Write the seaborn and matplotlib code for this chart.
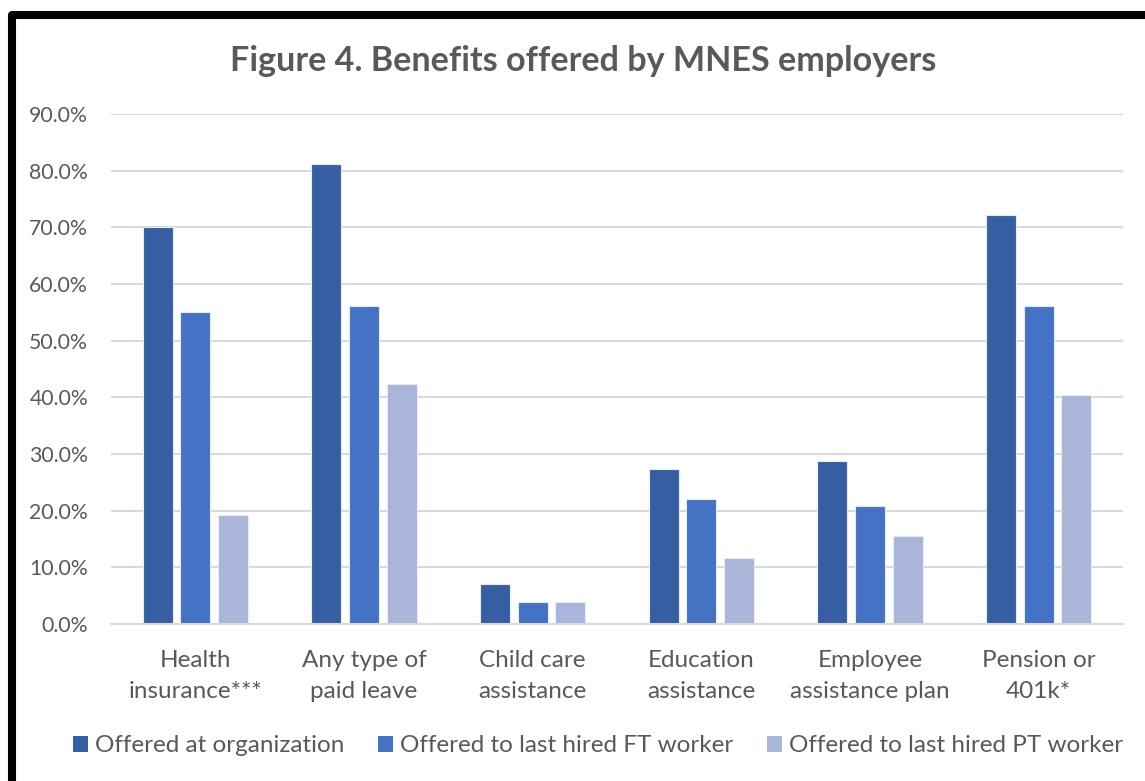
import matplotlib
matplotlib.use("Agg")
import matplotlib.pyplot as plt
from matplotlib.patches import Rectangle
from matplotlib.ticker import FuncFormatter, MultipleLocator
import seaborn as sns
import pandas as pd

# Benefit categories (x axis) and the share of employers for each series
categories = [
    "Health\ninsurance***",
    "Any type of\npaid leave",
    "Child care\nassistance",
    "Education\nassistance",
    "Employee\nassistance plan",
    "Pension or\n401k*",
]
offered_at_org = [70.0, 81.1, 7.1, 27.3, 28.8, 72.1]
offered_last_ft = [55.0, 56.2, 3.8, 22.1, 20.8, 56.2]
offered_last_pt = [19.3, 42.3, 3.9, 11.6, 15.5, 40.4]
series_names = [
    "Offered at organization",
    "Offered to last hired FT worker",
    "Offered to last hired PT worker",
]
colors = ["#365FA3", "#4472C4", "#A9B6DA"]

df = pd.DataFrame({
    "Benefit": categories,
    series_names[0]: offered_at_org,
    series_names[1]: offered_last_ft,
    series_names[2]: offered_last_pt,
}).melt(id_vars="Benefit", var_name="Series", value_name="Percent")

sns.set_theme(style="white")
plt.rcParams["font.family"] = ["Lato", "DejaVu Sans"]
text_gray = "#595959"

fig = plt.figure(figsize=(11.45, 7.81), dpi=100)
ax = fig.add_axes([111 / 1145, 1 - 624 / 781, (1123 - 111) / 1145, (624 - 114) / 781])

sns.barplot(
    data=df, x="Benefit", y="Percent", hue="Series",
    hue_order=series_names, palette=colors, order=categories,
    width=0.667, gap=0.2, ax=ax, legend=False,
    edgecolor="#E6EBF5", linewidth=0.8, saturation=1,
)

ax.set_ylim(0, 90)
ax.set_xlim(-0.5, len(categories) - 0.5)
ax.yaxis.set_major_locator(MultipleLocator(10))
ax.yaxis.set_major_formatter(FuncFormatter(lambda v, _: f"{v:.1f}%"))
ax.grid(axis="y", color="#D9D9D9", linewidth=1.5)
ax.set_axisbelow(True)
for s in ["top", "right", "left"]:
    ax.spines[s].set_visible(False)
ax.spines["bottom"].set_color("#D9D9D9")
ax.spines["bottom"].set_linewidth(1.5)
ax.set_xlabel("")
ax.set_ylabel("")
ax.tick_params(axis="both", length=0, colors=text_gray)
ax.tick_params(axis="y", labelsize=15.3, pad=16.5)
ax.tick_params(axis="x", labelsize=17.5, pad=19)
for lbl in ax.get_xticklabels():
    lbl.set_linespacing(1.55)

fig.text(0.509, 1 - 61 / 781, "Figure 4. Benefits offered by MNES employers",
         ha="center", va="center", fontsize=24.6, fontweight="bold", color=text_gray)

handles = [Rectangle((0, 0), 1, 1, facecolor=c, edgecolor="none") for c in colors]
fig.legend(handles, series_names, loc="center", bbox_to_anchor=(0.5225, 1 - 746 / 781),
           ncol=3, frameon=False, fontsize=17.5, labelcolor=text_gray,
           handlelength=0.6, handleheight=0.6, handletextpad=0.3, columnspacing=1.4)

# Thick black frame along the top and left edges
fig.add_artist(Rectangle((12 / 1145, -0.1), 1.2, 1.1 - 15 / 781,
                         transform=fig.transFigure, fill=False,
                         edgecolor="black", linewidth=5.8, joinstyle="round"))

fig.savefig("out.png", dpi=100, facecolor="white")
